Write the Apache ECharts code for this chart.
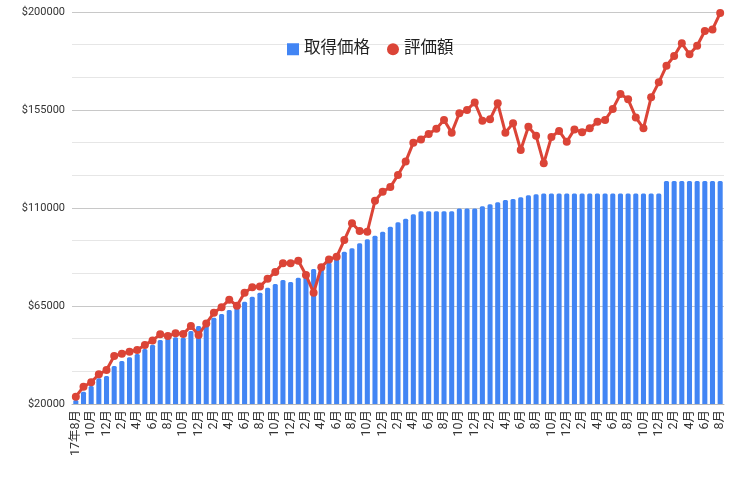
<!DOCTYPE html>
<html>
<head>
<meta charset="utf-8">
<script src="https://cdn.jsdelivr.net/npm/echarts@6/dist/echarts.min.js"></script>
<style>
  html, body { margin: 0; padding: 0; background: #fff; }
  #chart { width: 732px; height: 485px; }
</style>
</head>
<body>
<div id="chart"></div>
<script>
// ========== データ ==========
const months = [
  '17年8月', '9月', '10月', '11月', '12月',
  '1月', '2月', '3月', '4月', '5月', '6月', '7月', '8月', '9月', '10月', '11月', '12月',
  '1月', '2月', '3月', '4月', '5月', '6月', '7月', '8月', '9月', '10月', '11月', '12月',
  '1月', '2月', '3月', '4月', '5月', '6月', '7月', '8月', '9月', '10月', '11月', '12月',
  '1月', '2月', '3月', '4月', '5月', '6月', '7月', '8月', '9月', '10月', '11月', '12月',
  '1月', '2月', '3月', '4月', '5月', '6月', '7月', '8月', '9月', '10月', '11月', '12月',
  '1月', '2月', '3月', '4月', '5月', '6月', '7月', '8月', '9月', '10月', '11月', '12月',
  '1月', '2月', '3月', '4月', '5月', '6月', '7月', '8月'
];

// 取得価格
const costValues = [
  21800, 25650, 28260, 31800, 32850,
  37450, 39740, 41430, 42960, 45250, 47230, 49390, 50150, 50600, 50400, 53500, 55800,
  56800, 59600, 61300, 63150, 64500, 67000, 69300, 71100, 73400, 75100, 76900, 76000,
  78000, 78200, 82000, 83400, 85000, 86900, 89900, 91500, 93800, 95600, 97300, 99100,
  101400, 103400, 105100, 107100, 108500, 108500, 108500, 108500, 108500, 109800, 109800, 109800,
  110800, 111700, 112600, 113700, 114100, 114900, 115800, 116300, 116700, 116700, 116700, 116700,
  116700, 116700, 116700, 116700, 116700, 116700, 116700, 116700, 116700, 116700, 116700, 116700,
  122400, 122400, 122400, 122400, 122400, 122400, 122400, 122400
];

// 評価額
const marketValues = [
  23350, 27940, 29960, 33630, 35600,
  42040, 43100, 44000, 44800, 47100, 49200, 52000, 51200, 52450, 52100, 55800, 51700,
  57000, 61900, 64400, 67900, 65100, 71100, 73600, 73900, 77500, 80600, 84600, 84600,
  85800, 79200, 71100, 82800, 86400, 87600, 95300, 103000, 99400, 99100, 113300, 117500,
  119600, 125150, 131300, 140000, 141500, 144000, 146400, 150400, 144600, 153500, 155000, 158500,
  150100, 150700, 158100, 144600, 148900, 136600, 147300, 143200, 130500, 142600, 145400, 140400,
  146100, 144800, 146600, 149600, 150400, 155500, 162300, 159900, 151600, 146600, 160800, 167700,
  175300, 179800, 185600, 180600, 184500, 191300, 192000, 199500
];

const yTicks = { min: 20000, max: 200000, step: 45000 };

// ========== チャート ==========
const FONT = 'Roboto, "Noto Sans CJK JP", sans-serif';
const chart = echarts.init(document.getElementById('chart'), null, { renderer: 'canvas' });

chart.setOption({
  backgroundColor: '#fff',
  animation: false,
  textStyle: { fontFamily: FONT },
  legend: {
    left: 282,
    top: 36,
    itemWidth: 12,
    itemHeight: 12,
    itemGap: 17,
    textStyle: { fontSize: 16.5, color: '#222', fontFamily: FONT },
    data: [
      { name: '取得価格', icon: 'rect' },
      { name: '評価額', icon: 'circle' }
    ]
  },
  grid: { left: 72, right: 8, top: 12, bottom: 81, containLabel: false },
  xAxis: {
    type: 'category',
    data: months,
    axisLine: { lineStyle: { color: '#bbb' } },
    axisTick: { show: false },
    axisLabel: {
      interval: 1,
      rotate: 90,
      margin: 6,
      fontSize: 12.5,
      color: '#333',
      fontFamily: FONT
    }
  },
  yAxis: {
    type: 'value',
    min: yTicks.min,
    max: yTicks.max,
    interval: yTicks.step,
    axisLine: { show: false },
    axisTick: { show: false },
    axisLabel: {
      margin: 7,
      fontSize: 11,
      color: '#333',
      fontFamily: FONT,
      formatter: v => '$' + v
    },
    splitLine: { lineStyle: { color: '#c8c8c8' } },
    minorTick: { show: false, splitNumber: 3 },
    minorSplitLine: { show: true, lineStyle: { color: '#e6e6e6' } }
  },
  series: [
    {
      name: '取得価格',
      type: 'bar',
      data: costValues,
      barCategoryGap: '34%',
      itemStyle: { color: '#4285F4', borderRadius: [1.5, 1.5, 0, 0] }
    },
    {
      name: '評価額',
      type: 'line',
      data: marketValues,
      symbol: 'circle',
      symbolSize: 8,
      showAllSymbol: true,
      lineStyle: { color: '#DB4437', width: 3 },
      itemStyle: { color: '#DB4437' }
    }
  ]
});
</script>
</body>
</html>
